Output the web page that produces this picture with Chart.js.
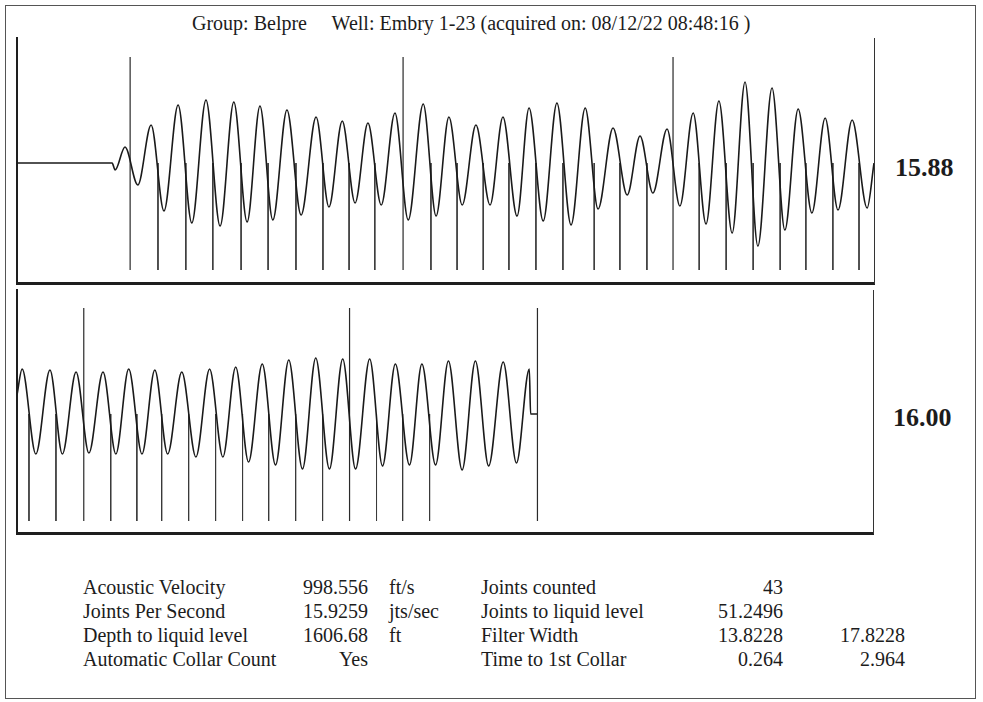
<!DOCTYPE html>
<html>
<head>
<meta charset="utf-8">
<script src="https://cdn.jsdelivr.net/npm/chart.js@4.4.0/dist/chart.umd.min.js"></script>
<style>
  body { margin: 0; background: #fff; width: 983px; height: 702px; position: relative; overflow: hidden;
         font-family: "Liberation Serif", "Times New Roman", serif; color: #1c1c1c; }
  #frame { position: absolute; left: 5px; top: 5px; width: 969px; height: 692px; border: 1px solid #555; }
  .box { position: absolute; }
  .txt { position: absolute; font-size: 20px; line-height: 24px; white-space: pre; }
  .big { position: absolute; font-size: 26px; font-weight: bold; line-height: 30px; }
</style>
</head>
<body>
<div id="frame"></div>
<div class="txt" style="left:192px; top:11px;">Group: Belpre     Well: Embry 1-23 (acquired on: 08/12/22 08:48:16 )</div>
<div class="box" style="left:10px; top:30px; width:870px; height:260px;"><canvas id="topChart"></canvas></div>
<div class="box" style="left:10px; top:286px; width:870px; height:254px;"><canvas id="bottomChart"></canvas></div>
<div class="big" style="left:895px; top:153px;">15.88</div>
<div class="big" style="left:893px; top:403px;">16.00</div>
<div id="stats"></div>
<script>
// time in seconds, amplitude in arbitrary units
const topTimes = [0, 0.222, 0.229, 0.252, 0.282, 0.313, 0.343, 0.376, 0.408, 0.441, 0.474, 0.506, 0.537, 0.567,
  0.597, 0.630, 0.663, 0.698, 0.728, 0.759, 0.789, 0.819, 0.850, 0.882, 0.913, 0.948, 0.978, 1.008, 1.039,
  1.071, 1.104, 1.134, 1.167, 1.195, 1.228, 1.260, 1.293, 1.326, 1.356, 1.391, 1.424, 1.454, 1.484, 1.517,
  1.547, 1.578, 1.608, 1.638, 1.669, 1.699, 1.729, 1.762, 1.792, 1.823, 1.855, 1.886, 1.916, 1.949, 1.984, 2.0];
const topAmps = [0, 0, -0.07, 0.16, -0.22, 0.38, -0.48, 0.58, -0.60, 0.63, -0.63, 0.61, -0.59, 0.57,
  -0.57, 0.53, -0.52, 0.46, -0.44, 0.42, -0.40, 0.40, -0.42, 0.50, -0.57, 0.59, -0.53, 0.46, -0.42,
  0.38, -0.42, 0.46, -0.53, 0.55, -0.58, 0.60, -0.62, 0.55, -0.46, 0.35, -0.32, 0.27, -0.30, 0.34,
  -0.43, 0.50, -0.61, 0.62, -0.70, 0.81, -0.83, 0.75, -0.67, 0.54, -0.50, 0.45, -0.47, 0.43, -0.45, 0];

const bottomTimes = [2.0, 2.012, 2.044, 2.077, 2.106, 2.138, 2.168, 2.201, 2.231, 2.261, 2.292, 2.322, 2.352,
  2.385, 2.418, 2.450, 2.481, 2.511, 2.541, 2.573, 2.604, 2.635, 2.667, 2.698, 2.730, 2.761, 2.791, 2.824,
  2.854, 2.884, 2.917, 2.946, 2.978, 3.008, 3.040, 3.071, 3.102, 3.136, 3.167, 3.197, 3.200, 3.215];
const bottomAmps = [0.19, 0.45, -0.40, 0.44, -0.40, 0.42, -0.39, 0.42, -0.40, 0.45, -0.40, 0.44, -0.40,
  0.42, -0.43, 0.45, -0.43, 0.47, -0.48, 0.50, -0.51, 0.54, -0.55, 0.56, -0.55, 0.55, -0.55, 0.55,
  -0.52, 0.50, -0.51, 0.50, -0.51, 0.53, -0.56, 0.53, -0.52, 0.52, -0.49, 0.45, 0, 0];

// collar marks (s); every 10th joint and the liquid level drawn tall
const collarTimes = [0.329, 0.394, 0.457, 0.523, 0.586, 0.651, 0.714, 0.775, 0.835, 0.966, 1.027, 1.088,
  1.148, 1.211, 1.274, 1.347, 1.407, 1.470, 1.592, 1.655, 1.718, 1.781, 1.841, 1.904, 1.965,
  2.028, 2.091, 2.219, 2.280, 2.338, 2.401, 2.464, 2.527, 2.588, 2.651, 2.714, 2.840, 2.901, 2.964];
const tallMarkTimes = [0.264, 0.901, 1.531, 2.156, 2.777, 3.216];

const statLabels1 = ['Acoustic Velocity', 'Joints Per Second', 'Depth to liquid level', 'Automatic Collar Count'];
const statValues1 = ['998.556', '15.9259', '1606.68', 'Yes'];
const statUnits1 = ['ft/s', 'jts/sec', 'ft', ''];
const statLabels2 = ['Joints counted', 'Joints to liquid level', 'Filter Width', 'Time to 1st Collar'];
const statValues2 = ['43', '51.2496', '13.8228', '0.264'];
const statValues3 = ['', '', '17.8228', '2.964'];

function toPoints(xs, ys) {
  return xs.map((x, i) => ({ x: x, y: ys[i] }));
}

function markPoints(times, from, to, t0, t1) {
  const pts = [];
  times.forEach(function (t) {
    if (t < t0 || t > t1) return;
    pts.push({ x: t, y: from }, { x: t, y: to }, { x: t, y: null });
  });
  return pts;
}

function makeChart(id, t0, t1, yMin, yMax, wave, pad) {
  const axisOff = { display: false, drawTicks: false };
  return new Chart(document.getElementById(id), {
    type: 'line',
    data: {
      datasets: [
        { data: wave, borderColor: '#1a1a1a', borderWidth: 1.6, pointRadius: 0,
          cubicInterpolationMode: 'monotone', order: 0 },
        { data: markPoints(collarTimes, 0, -1.07, t0, t1), borderColor: '#3a3a3a', borderWidth: 1,
          pointRadius: 0, tension: 0, spanGaps: false, order: 1 },
        { data: markPoints(tallMarkTimes, 1.06, -1.07, t0, t1), borderColor: '#2a2a2a', borderWidth: 1.2,
          pointRadius: 0, tension: 0, spanGaps: false, order: 1 }
      ]
    },
    options: {
      responsive: true,
      maintainAspectRatio: false,
      animation: false,
      layout: { autoPadding: false, padding: pad },
      plugins: { legend: { display: false }, tooltip: { enabled: false } },
      scales: {
        x: { type: 'linear', min: t0, max: t1, ticks: { display: false }, grid: axisOff,
             border: { display: true, width: 3, color: '#1e1e1e' } },
        y: { min: yMin, max: yMax, ticks: { display: false }, grid: axisOff,
             border: { display: true, width: 2, color: '#1e1e1e' } },
        y2: { position: 'right', min: yMin, max: yMax, ticks: { display: false }, grid: axisOff,
              border: { display: true, width: 1, color: '#333' } }
      }
    }
  });
}

makeChart('topChart', 0, 2.0, -1.2, 1.25, toPoints(topTimes, topAmps),
  { left: 7, right: 6, top: 8, bottom: 7 });
makeChart('bottomChart', 2.0, 4.0, -1.19, 1.24, toPoints(bottomTimes, bottomAmps),
  { left: 7, right: 7, top: 4, bottom: 7 });

// parameter table under the plots
const stats = document.getElementById('stats');
function addText(text, left, top, alignRight) {
  const d = document.createElement('div');
  d.className = 'txt';
  d.textContent = text;
  if (alignRight) {
    d.style.left = (left - 200) + 'px';
    d.style.width = '200px';
    d.style.textAlign = 'right';
  } else {
    d.style.left = left + 'px';
  }
  d.style.top = top + 'px';
  stats.appendChild(d);
}
const rowTops = [575, 599, 623, 647];
rowTops.forEach(function (top, i) {
  addText(statLabels1[i], 83, top, false);
  addText(statValues1[i], 368, top, true);
  addText(statUnits1[i], 389, top, false);
  addText(statLabels2[i], 481, top, false);
  addText(statValues2[i], 783, top, true);
  addText(statValues3[i], 905, top, true);
});
</script>
</body>
</html>
